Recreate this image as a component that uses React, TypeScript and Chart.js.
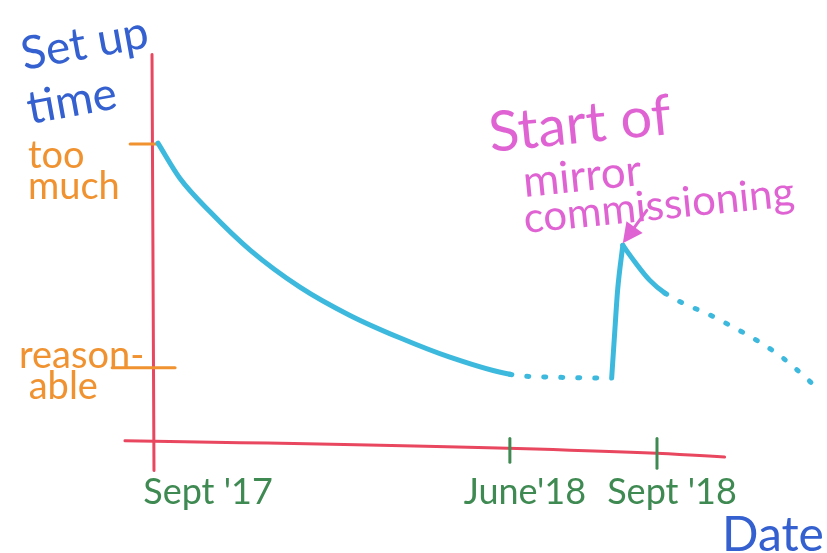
import { useEffect, useRef } from "react";
import { Chart, registerables } from "chart.js";

Chart.register(...registerables);

// ---- data (x in months since Sept '17 as drawn, y in "set-up time" units) ----
const xStartTick = [0];
const xStartLabel = ["Sept '17"];
const xTickMonths = [9, 12.7];
const xTickLabels = ["June'18", "Sept '18"];
const yHighTick = [4];
const yHighLabel = [["too", "much"]];
const yLowTick = [1];
const yLowLabel = [["reason-", " able"]];

// phase 1: Sept '17 until the start of mirror commissioning
const phase1X = [0.15, 0.7, 1.46, 2.46, 3.72, 4.98, 6.23, 7.49, 9.0, 10.26, 11.56];
const phase1Y = [4.01, 3.54, 3.09, 2.58, 2.08, 1.7, 1.4, 1.14, 0.91, 0.87, 0.86];
const phase1Dotted = [0, 0, 0, 0, 0, 0, 0, 0, 1, 1];

// phase 2: jump at the start of mirror commissioning
const riseX = [11.56, 11.64, 11.71, 11.84];
const riseY = [0.86, 1.5, 2.04, 2.64];
const riseDotted = [0, 0, 0];

// phase 3: after the start of mirror commissioning
const phase3X = [11.84, 12.14, 12.52, 12.9, 14.28, 15.74, 16.79];
const phase3Y = [2.64, 2.42, 2.17, 2.0, 1.64, 1.18, 0.7];
const phase3Dotted = [0, 0, 0, 1, 1, 1];

const yAxisTitle = ["Set up", "time"];
const xAxisTitle = "Date";
const annotationLines = ["Start of", "mirror", "commissioning"];

const X_MIN = -0.83;
const X_MAX = 16.9;
const Y_MIN = -0.44;
const Y_MAX = 5.3;

const RED = "#e8475f";
const ORANGE = "#f0922f";
const GREEN = "#3f8a52";
const BLUE = "#3461cf";
const CYAN = "#3db9de";
const MAGENTA = "#e063d3";
const FONT = "Lato, 'Open Sans', sans-serif";

const toPoints = (xs: number[], ys: number[]) => xs.map((x, i) => ({ x, y: ys[i] }));

const makeDataset = (label: string, xs: number[], ys: number[], dotted: number[]) => ({
  label,
  data: toPoints(xs, ys),
  borderColor: CYAN,
  borderWidth: 5,
  borderCapStyle: "round" as const,
  borderJoinStyle: "round" as const,
  pointRadius: 0,
  cubicInterpolationMode: "monotone" as const,
  fill: false,
  xAxisID: "x",
  yAxisID: "y",
  segment: {
    borderDash: (ctx: any) => (dotted[ctx.p0DataIndex] ? [2, 15] : []),
  },
});

const decorPlugin = {
  id: "decor",
  beforeDatasetsDraw(chart: any) {
    const { ctx } = chart;
    const x = chart.scales.x;
    const y = chart.scales.y;
    const px = (v: number) => x.getPixelForValue(v);
    const py = (v: number) => y.getPixelForValue(v);
    ctx.save();
    ctx.lineCap = "round";
    // red axes
    ctx.strokeStyle = RED;
    ctx.lineWidth = 3;
    ctx.beginPath();
    ctx.moveTo(px(0), py(5.2));
    ctx.lineTo(px(0.05), py(-0.38));
    ctx.stroke();
    ctx.beginPath();
    ctx.moveTo(px(-0.68), py(0.02));
    ctx.quadraticCurveTo(px(11.5), py(-0.08), px(14.4), py(-0.2));
    ctx.stroke();
    // orange y tick marks
    ctx.strokeStyle = ORANGE;
    ctx.beginPath();
    ctx.moveTo(px(-0.55), py(yHighTick[0]));
    ctx.lineTo(px(0.13), py(yHighTick[0]));
    ctx.stroke();
    ctx.beginPath();
    ctx.moveTo(px(-1.0), py(yLowTick[0]));
    ctx.lineTo(px(0.58), py(yLowTick[0]));
    ctx.stroke();
    // green x tick marks
    ctx.strokeStyle = GREEN;
    xTickMonths.forEach((v, i) => {
      ctx.beginPath();
      ctx.moveTo(px(v), py(0.05));
      ctx.lineTo(px(v), py(i === 0 ? -0.27 : -0.35));
      ctx.stroke();
    });
    ctx.restore();
  },
  afterDraw(chart: any) {
    const { ctx } = chart;
    const x = chart.scales.x;
    const y = chart.scales.y;
    ctx.save();
    // y axis title
    ctx.fillStyle = BLUE;
    ctx.font = `46px ${FONT}`;
    ctx.save();
    ctx.translate(24, 70);
    ctx.rotate(-0.18);
    ctx.fillText(yAxisTitle[0], 0, 0);
    ctx.restore();
    ctx.save();
    ctx.translate(30, 124);
    ctx.rotate(-0.18);
    ctx.fillText(yAxisTitle[1], 0, 0);
    ctx.restore();
    // x axis title
    ctx.font = `48px ${FONT}`;
    ctx.fillText(xAxisTitle, 722, 551);
    // annotation
    ctx.fillStyle = MAGENTA;
    ctx.strokeStyle = MAGENTA;
    ctx.save();
    ctx.translate(525, 233);
    ctx.rotate(-0.1);
    ctx.font = `56px ${FONT}`;
    ctx.fillText(annotationLines[0], -26, -84);
    ctx.font = `44px ${FONT}`;
    ctx.fillText(annotationLines[1], 3, -36);
    ctx.font = `42px ${FONT}`;
    ctx.fillText(annotationLines[2], 0, 0);
    ctx.restore();
    // arrow to the peak
    const tipX = x.getPixelForValue(riseX[riseX.length - 1]);
    const tipY = y.getPixelForValue(riseY[riseY.length - 1]) - 2;
    const tailX = tipX + 24;
    const tailY = tipY - 33;
    const ang = Math.atan2(tipY - tailY, tipX - tailX);
    ctx.lineWidth = 3;
    ctx.lineCap = "round";
    ctx.beginPath();
    ctx.moveTo(tailX, tailY);
    ctx.lineTo(tipX - 12 * Math.cos(ang), tipY - 12 * Math.sin(ang));
    ctx.stroke();
    ctx.beginPath();
    ctx.moveTo(tipX, tipY);
    ctx.lineTo(tipX - 20 * Math.cos(ang) + 10 * Math.sin(ang), tipY - 20 * Math.sin(ang) - 10 * Math.cos(ang));
    ctx.lineTo(tipX - 20 * Math.cos(ang) - 10 * Math.sin(ang), tipY - 20 * Math.sin(ang) + 10 * Math.cos(ang));
    ctx.closePath();
    ctx.fill();
    ctx.restore();
  },
};

const hiddenGrid = { display: false, drawTicks: false };

// mirrored labels are not clipped to the scale box, so axes can share the same band
const xAxis = (ticksAt: number[], labels: string[], offset: number, height: number, weight: number) => ({
  type: "linear",
  position: "bottom",
  min: X_MIN,
  max: X_MAX,
  weight,
  grid: hiddenGrid,
  border: { display: false },
  afterBuildTicks: (s: any) => {
    s.ticks = ticksAt.map((v) => ({ value: v }));
  },
  afterFit: (s: any) => {
    s.height = height;
  },
  ticks: {
    autoSkip: false,
    maxRotation: 0,
    minRotation: 0,
    mirror: true,
    padding: -39,
    labelOffset: offset,
    color: GREEN,
    font: { family: FONT, size: 36 },
    callback: (_v: any, i: number) => labels[i],
  },
});

const yAxis = (ticksAt: number[], labels: string[][], offset: number, pad: number, width: number, weight: number) => ({
  type: "linear",
  position: "left",
  min: Y_MIN,
  max: Y_MAX,
  weight,
  grid: hiddenGrid,
  border: { display: false },
  afterBuildTicks: (s: any) => {
    s.ticks = ticksAt.map((v) => ({ value: v }));
  },
  afterFit: (s: any) => {
    s.width = width;
  },
  ticks: {
    mirror: true,
    crossAlign: "near",
    padding: pad,
    labelOffset: offset,
    color: ORANGE,
    font: { family: FONT, size: 38, lineHeight: 0.82 },
    callback: (_v: any, i: number) => labels[i],
  },
});

export default function App() {
  const canvasRef = useRef<HTMLCanvasElement | null>(null);

  useEffect(() => {
    let chart: Chart | null = null;
    let cancelled = false;
    const build = () => {
      if (cancelled || !canvasRef.current) return;
      chart = new Chart(canvasRef.current, {
        type: "line",
        data: {
          datasets: [
            makeDataset("before commissioning", phase1X, phase1Y, phase1Dotted),
            makeDataset("commissioning start", riseX, riseY, riseDotted),
            makeDataset("after commissioning", phase3X, phase3Y, phase3Dotted),
          ] as any,
        },
        options: {
          animation: false,
          responsive: false,
          events: [],
          layout: { padding: { top: 47, right: 3, left: 0, bottom: 0 } },
          plugins: {
            legend: { display: false },
            tooltip: { enabled: false },
            title: { display: false },
          },
          scales: {
            xStart: xAxis(xStartTick, xStartLabel, 56, 0, 0),
            x: xAxis(xTickMonths, xTickLabels, 15, 78, 1),
            yLow: yAxis(yLowTick, yLowLabel, 4, -100, 0, 0),
            y: yAxis(yHighTick, yHighLabel, 27, -91, 119, 1),
          },
        },
        plugins: [decorPlugin],
      } as any);
    };
    const fontsReady = (document as any).fonts
      ? Promise.all([
          (document as any).fonts.load(`36px Lato`),
          (document as any).fonts.load(`56px Lato`),
        ]).catch(() => null)
      : Promise.resolve(null);
    fontsReady.then(build);
    return () => {
      cancelled = true;
      if (chart) chart.destroy();
    };
  }, []);

  return (
    <div style={{ position: "absolute", left: 0, top: 0, width: 827, height: 553, background: "#fff" }}>
      <canvas ref={canvasRef} width={827} height={553} />
    </div>
  );
}
